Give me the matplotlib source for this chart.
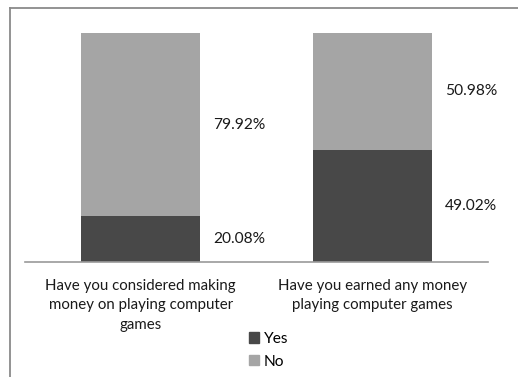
import matplotlib
matplotlib.use("Agg")
import matplotlib.pyplot as plt
from matplotlib.lines import Line2D
from matplotlib.patches import Patch

questions = ["Have you considered making\nmoney on playing computer\ngames",
             "Have you earned any money\nplaying computer games"]
yes_pct = [20.08, 49.02]
no_pct = [79.92, 50.98]

dark = "#484848"
light = "#a5a5a5"
text_color = "#1a1a1a"
W, H = 518, 377

plt.rcParams["font.family"] = ["Lato", "DejaVu Sans"]

fig = plt.figure(figsize=(W / 100, H / 100), dpi=100)
ax = fig.add_axes([25 / W, (H - 262) / H, 463 / W, 229 / H])

x = [0, 1]
width = 0.515
ax.bar(x, yes_pct, width, color=dark, label="Yes", zorder=2)
ax.bar(x, no_pct, width, bottom=yes_pct, color=light, label="No", zorder=2)

# value labels to the right of each segment, at the segment's middle
for xi, y, n in zip(x, yes_pct, no_pct):
    ax.text(xi + width / 2 + 0.055, y / 2, f"{y:.2f}%", va="center", ha="left",
            fontsize=11.2, color=text_color)
    ax.text(xi + width / 2 + 0.055, y + n / 2, f"{n:.2f}%", va="center", ha="left",
            fontsize=11.2, color=text_color)

ax.set_xlim(-0.5, 1.5)
ax.set_ylim(0, 100)
for s in ["top", "right", "left"]:
    ax.spines[s].set_visible(False)
ax.spines["bottom"].set_color("#9a9a9a")
ax.spines["bottom"].set_linewidth(1.2)
ax.set_yticks([])
ax.set_xticks(x)
ax.set_xticklabels(questions, fontsize=10.8, color=text_color, linespacing=1.5)
ax.tick_params(axis="x", length=0, pad=12)

handles = [Patch(color=dark), Patch(color=light)]
fig.legend(handles, ["Yes", "No"], loc="upper left",
           bbox_to_anchor=(249 / W, 1 - 332 / H), frameon=False, fontsize=11.2,
           handlelength=0.65, handleheight=0.65, handletextpad=0.3,
           labelspacing=0.55, borderaxespad=0, borderpad=0)

# outer chart frame (runs off the right and bottom edges)
fig.add_artist(Line2D([9.5 / W, 9.5 / W], [0, 1 - 7.5 / H], color="#8a8a8a", lw=1.3))
fig.add_artist(Line2D([9.5 / W, 1], [1 - 7.5 / H, 1 - 7.5 / H], color="#8a8a8a", lw=1.3))

fig.savefig("out.png", dpi=100)
